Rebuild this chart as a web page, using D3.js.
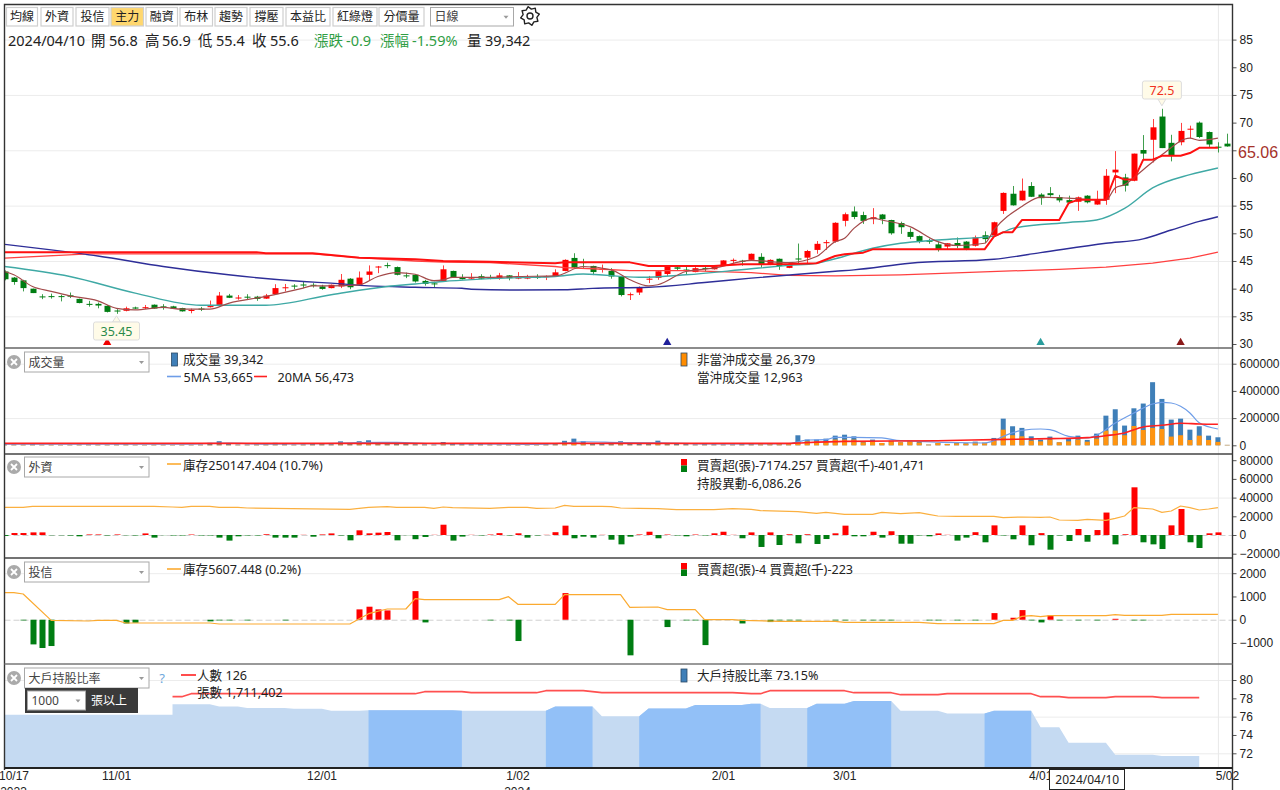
<!DOCTYPE html>
<html lang="zh-Hant">
<head>
<meta charset="utf-8">
<script src="https://cdn.jsdelivr.net/npm/d3@7/dist/d3.min.js"></script>
<style>
html,body{margin:0;padding:0;background:#fff;overflow:hidden}
svg{display:block}
text{font-family:"Noto Sans","Noto Sans CJK TC",sans-serif;fill:#222}
.axis text{font-family:"Liberation Sans","Noto Sans CJK TC",sans-serif;font-size:12px;fill:#222}
</style>
</head>
<body>
<svg id="chart" width="1280" height="790"></svg>
<script>
// ---- Daily candles, one entry per trading day ----
const opens = [
43.1,42,41.5,40,38.6,38.65,38.65,38.8,38.15,37.25,
37.25,36.9,36.05,36,36.6,36.6,37.1,36.8,36.8,36.5,
36.1,36.4,36.65,37,38.75,38.35,38.55,38.55,38.2,39,
40.2,40.55,40.75,40.7,40.4,40.1,40.4,41.8,40.7,42.5,
43.9,44.25,43.9,42.4,42.5,41.4,40.95,41.3,43.2,42.05,
41.95,42.25,42.05,41.95,42.4,41.95,41.95,42.1,42.2,42.25,
43.2,45.55,44.8,44.1,43.55,43.2,42.2,38.95,39.3,41.75,
41.95,42.65,43.85,43.45,43,43.75,43.5,44.15,45.15,45.05,
45.2,45.75,44.3,45.4,43.75,45.45,45.6,47,48.35,48.5,
52.25,53.95,53.3,52.55,53.4,52.4,51.85,50.25,49.5,48.65,
48,47.6,48.25,48.5,47.75,49.65,49.6,54.05,57.15,55.95,
58.55,57,57.25,56.55,56,55.7,56.8,55.2,56.05,61,
60.1,59.5,65.05,66.9,71.1,66.35,66.45,68.85,70,68.3,
65.65,66.2];
const highs = [
43.3,42.1,41.6,40,39,39.1,38.9,39.3,38.2,37.8,
37.5,37,36.3,36.75,36.75,37.05,37.15,37.2,36.9,36.55,
36.4,36.7,37.85,39.4,39.05,38.85,39,38.7,39.05,40.8,
40.85,40.8,41.3,41,40.7,40.75,42.65,41.9,43.1,44.2,
44.1,44.7,44,42.9,42.6,41.6,41.25,44.2,43.25,42.6,
42.8,42.6,42.5,42.85,42.45,43,42.5,42.6,42.4,43.5,
45.3,46.4,45.4,44.15,44.35,43.7,42.2,39.3,40.4,42.3,
43.2,44.1,44.15,43.95,43.9,44.1,44.1,45.15,45.45,45.2,
46.35,46.4,45.3,45.45,44.5,48.15,47,48.6,48.8,52,
53.75,54.85,53.9,54.55,53.5,52.45,52.1,50.9,49.6,49.05,
48.5,48.25,49.25,48.6,49.6,50.35,52.1,57.4,58.55,59.9,
59.25,57.25,58.35,56.95,56.8,56.65,56.9,57.7,61.6,64.85,
60.75,64.4,67.75,70.65,72.5,67.8,69.95,69.45,70.2,68.4,
66.45,68];
const lows = [
41.5,40.7,39.5,39.2,38.1,38.2,37.7,38.3,37.35,36.75,
36.45,35.7,35.45,35.9,36.3,36.3,36.35,36.2,36.35,35.85,
35.55,35.95,36.6,37,38.3,38,38.05,37.8,38.15,38.95,
39.5,39.9,40.1,40.2,39.8,40.05,40.1,39.9,40.7,41.5,
42.8,43.7,42.4,41.9,41.1,40.55,40.2,41.25,42,41.65,
41.7,41.7,41.7,41.6,41.5,41.7,41.7,41.75,41.55,42.2,
43.15,43.75,43.7,42.45,42.9,41.8,38.6,37.95,38.85,41,
41.6,42.3,43.2,42.6,42.95,43.1,43.45,44.1,44.6,44.15,
45.15,43.8,44.25,43.4,43.7,44.6,44.6,46.3,47,48.3,
51.25,52.55,51.7,51.65,51.65,49.75,49.9,48.95,48.2,48.1,
46.7,47.15,47.3,46.95,47.6,48.2,49.5,53.5,55,55.9,
56.55,55.15,56.6,55.6,55.4,54.05,55.4,55.15,55.15,57.25,
57.55,59.4,63.3,62.8,65.4,63,65.9,67.2,67.2,65.5,
64.6,65.65];
const closes = [
41.7,41.2,40.1,39.2,38.55,38.6,38.6,38.55,37.4,37.2,
36.95,35.8,36,36.45,36.4,36.65,36.4,36.75,36.4,35.9,
36.15,36.35,36.85,38.75,38.35,38.4,38.5,38.15,38.75,40.1,
40.25,40.5,40.7,40.6,39.95,40.7,41.6,40.25,42,43.1,
44,44.2,42.5,42.35,41.3,40.85,40.9,43.5,42.05,41.7,
42,41.8,41.8,42.4,41.9,42,42,42.05,42.25,42.95,
45.2,43.8,44.75,43,43.6,42.2,38.85,39,40.2,41.8,
43.15,44,43.6,43.4,43.7,43.7,44.05,45.1,45.2,45,
46.3,44.3,45.2,44.1,44.45,45.4,46.8,48.1,48.4,51.9,
53.45,52.95,52.25,52.9,52.55,50,51.1,49.35,48.5,48.6,
47.05,48.2,47.7,47,49.25,48.95,52,57.3,55.05,57.7,
56.6,56.35,56.9,55.95,55.55,56.5,55.6,56.05,60.4,61.5,
58.6,64.4,64.4,69.15,65.4,64,68.5,68.9,67.4,66.05,
65.6,65.7];

// ---- Moving averages and the main-force cost line, as [day, price] readings ----
const ma5 = [[0,43.1],[1,42.5],[3,40.4],[5,39.5],[7,38.7],[10,37.8],[12,36.45],[14,36.15],[17,36.6],[19,36.3],[22,36.3],[24,37.35],[28,38.6],[32,40.1],[33,40.5],[35,40.5],[38,40.7],[40,42.2],[42,42.9],[44,42.6],[46,41.45],[47,41.6],[48,42.05],[52,42.05],[55,42.2],[59,42.3],[62,44],[65,43.4],[67,41.6],[69,40.5],[70,40.7],[73,43.1],[76,43.7],[80,45.1],[84,44.7],[87,45.8],[89,48.5],[90,49.1],[91,50.9],[93,52.75],[94,52.4],[97,51.2],[100,48.5],[102,47.8],[105,48.2],[106,50.6],[109,54.85],[111,56.55],[114,56.35],[118,56],[119,58.2],[120,58.8],[122,61.5],[124,64.2],[127,67.2],[128,66.8],[130,67.2]];
const ma20 = [[0,44],[7,42.2],[14,39.2],[21,37],[28,37],[35,38.9],[41,40.4],[44,40.85],[47,41.3],[55,42],[59,42.2],[62,42.65],[68,42.05],[73,42.5],[80,43.6],[84,44.2],[87,44.6],[89,45.4],[93,47.3],[96,48.2],[100,48.8],[106,49.5],[108,50.9],[114,51.95],[117,52.4],[120,54.5],[123,58.2],[127,60.6],[130,61.8]];
const ma60 = [[0,48],[5,47],[10,45.9],[17,44],[24,42.5],[32,41.3],[35,41],[39,40.5],[44,40.25],[49,40.07],[50,39.9],[55,39.75],[60,39.8],[63,40.05],[69,40.25],[75,41.1],[80,41.9],[89,43.15],[91,43.4],[97,44.6],[106,45.3],[111,46.5],[118,48.2],[122,49],[125,50.6],[128,52.15],[130,53]];
const ma240 = [[0,45.5],[9,46.3],[33,46.3],[38,45.6],[44,45],[47,44.8],[52,44.7],[59,44],[60,43.8],[63,43.6],[67,43.25],[73,43.25],[80,42.9],[84,42.4],[89,42.3],[96,42.5],[113,43.5],[118,43.9],[123,44.6],[127,45.5],[130,46.6]];
const mainCost = [[0,46.6],[27,46.6],[28,46.4],[33,46.4],[38,45.6],[44,45.3],[47,45],[52,44.85],[59,44.6],[60,44.75],[67,44.75],[69,44.1],[76,44.1],[79,44.4],[84,44.45],[87,44.6],[89,45.9],[90,46.2],[92,46.5],[93,47.1],[105,47.1],[106,49.4],[107,50.2],[108,50.2],[109,52.4],[113,52.4],[114,55.45],[115,56.05],[118,56.05],[119,60.4],[120,59.7],[121,59.7],[122,63.3],[123,63.3],[124,64],[126,64],[127,64.5],[128,65.45],[130,65.45]];

const priceTicks = [85,80,75,70,65,60,55,50,45,40,35,30];
const priceGrid = [85,75,65,55,45,35];
const signalDays = [11,71,111,126];
const signalColors = ["#f00000","#20209a","#2a9d9d","#8b1a1a"];

// ---- Volume panel ----
const volumeTotal = [
8000,7000,6000,9000,5000,5000,4000,5000,6000,7000,
6000,5000,7000,8000,5000,4000,5000,5000,4000,4000,
4000,6000,18000,30000,9000,6000,6000,7000,8000,18000,
9000,6000,7000,12000,16000,8000,29000,14000,30000,37000,
22000,14000,14000,12000,8000,7000,6000,24000,10000,9000,
8000,9000,7000,6000,7000,6000,7000,8000,9000,14000,
33000,49000,30000,12000,10000,16000,30000,14000,10000,12000,
34000,15000,10000,9000,7000,9000,8000,7000,7000,9000,
12000,14000,12000,11000,10000,73600,42000,42000,49000,71000,
78000,66000,29000,42000,17000,34000,22000,34000,29000,5000,
17000,10000,17000,15000,27000,20000,54000,196000,140000,128000,
66000,42000,64000,22000,47000,71000,39342,86000,218000,265000,
145000,272000,307000,464000,341000,189000,196000,115000,140000,71000,
59000,3000];
const volumeNonDayTrade = [
2000,2000,3000,2000,2000,3000,2000,2000,3000,2000,
3000,2000,2000,3000,2000,2000,3000,2000,2000,3000,
2000,2000,4000,5000,3000,2000,2000,3000,4000,5000,
3000,2000,3000,4000,5000,3000,6000,5000,7000,8000,
6000,5000,4000,4000,3000,2000,2000,7000,3000,3000,
2000,3000,3000,2000,2000,3000,2000,3000,3000,5000,
8000,10000,8000,4000,3000,5000,7000,4000,3000,4000,
8000,5000,3000,3000,2000,3000,2000,2000,2000,3000,
5000,14000,12000,11000,10000,24000,29000,29000,29000,42000,
42000,42000,22000,29000,17000,30000,22000,30000,20000,5000,
17000,10000,15000,13000,20000,17000,34000,115000,74000,66000,
34000,29000,42000,22000,29000,42000,26379,49000,108000,108000,
74000,142000,113000,128000,120000,64000,74000,39000,71000,39000,
25000,3000];
const volumeMa5 = [[0,9000],[20,9000],[22,14000],[24,16000],[28,9000],[34,12000],[38,20000],[42,22000],[46,12000],[56,7000],[60,16000],[62,26000],[66,20000],[70,18000],[76,10000],[84,12000],[85,25000],[86,39000],[88,41000],[89,59000],[91,59000],[94,54000],[96,34000],[105,17000],[106,34000],[107,66000],[109,110000],[111,120000],[112,115000],[114,66000],[116,53665],[117,74000],[119,164000],[121,238000],[123,304000],[124,316000],[125,311000],[126,287000],[127,238000],[128,165000],[130,120000]];
const volumeMa20 = [[0,14000],[84,14000],[85,17000],[90,29000],[100,34000],[106,42000],[112,49000],[116,56473],[118,71000],[120,91000],[122,135000],[124,147000],[126,162000],[128,157000],[130,155000]];
const volumeTicks = [600000,400000,200000,0];
const volumeGrid = [600000,200000];

// ---- Foreign investors panel ----
const foreignNet = [
-1000,2100,2100,2800,2800,-300,-300,-600,-1400,600,
600,-500,600,-300,-500,1700,-2800,-200,-500,-500,
500,-500,-500,-2800,-6000,-1400,-500,-500,800,-2800,
-2800,-2800,200,-1800,600,1700,-500,-5700,5000,1800,
2500,3200,-5700,-200,-4500,-2100,200,11000,-6000,-1700,
200,-500,500,2000,-500,1800,-2800,-500,200,3000,
10000,-3500,-1800,-2800,200,-5000,-10000,-1800,600,3500,
-3500,500,-500,-1400,500,-500,1800,3500,200,-3500,
2800,-12800,2800,-10700,800,-8900,800,-9600,-4300,1800,
10000,-1400,-1400,3500,-2800,4000,-9300,-9300,-500,-1400,
1700,200,-6000,-2800,3000,-7800,10300,-500,-4600,10300,
-11000,2000,-15700,-500,-6400,6400,-7174,5300,24000,-10000,
800,51000,-7800,-10000,-15000,10300,27800,-7800,-13900,1800,
2800];
const foreignHold = [[0,326600],[2,326600],[3,333000],[16,333000],[18,328800],[19,326600],[20,333000],[22,333000],[23,326600],[25,326600],[26,322400],[37,313900],[39,326600],[41,330900],[42,326600],[45,326600],[46,320300],[47,328800],[48,324500],[52,320300],[54,326600],[56,326600],[57,320300],[59,322400],[60,339400],[61,333000],[64,333000],[65,330900],[66,322400],[68,320300],[70,318100],[72,311800],[76,311800],[78,318100],[80,313900],[81,305400],[85,299000],[87,288400],[88,294800],[90,282000],[93,282000],[94,294800],[96,286300],[98,292600],[99,282000],[100,271400],[102,269300],[106,269300],[107,260800],[109,265000],[111,262900],[112,265000],[113,245900],[115,243800],[116,250147],[118,243800],[119,256500],[120,271400],[121,324500],[123,316000],[124,294800],[125,303300],[126,335100],[127,324500],[128,309600],[129,316000],[130,324500]];
const foreignTicks = [80000,60000,40000,20000,0,-20000];

// ---- Investment trust panel ----
const trustDays = [2,3,4,5,13,14,22,23,24,26,30,38,39,40,41,44,45,52,54,55,60,67,71,73,74,75,79,82,83,84,85,89,90,92,93,94,95,99,100,102,104,106,108,109,110,111,112,113,115,116,117,119,121,122];
const trustNet = [-30,-1060,-1215,-1130,-160,-130,-70,-30,-30,-30,-30,445,560,445,400,1230,-115,-30,-30,-915,1145,-1530,-315,-30,-30,-1090,-160,-100,-30,-30,-30,-30,-30,-30,-30,-30,-30,-30,-30,-30,-30,285,85,415,-30,-115,185,-30,-30,-4,-30,40,-30,-30];
const trustHold = [[0,8367],[1,8367],[2,8207],[5,5047],[9,4967],[10,5047],[12,5047],[13,4727],[22,4727],[23,4607],[37,4607],[39,5847],[41,6407],[43,6407],[44,7647],[45,7527],[53,7527],[54,7887],[55,6967],[59,6967],[60,8127],[66,8127],[67,6607],[70,6647],[71,6327],[74,6327],[75,5127],[78,5127],[79,5047],[83,4927],[89,4927],[90,4807],[98,4807],[100,4647],[106,4647],[107,5047],[108,5047],[109,5527],[110,5607],[111,5487],[112,5607],[116,5607],[118,5607],[119,5727],[120,5647],[124,5647],[125,5767],[130,5767]];
const trustTicks = [2000,1000,0,-1000];

// ---- Large holders panel: weekly readings held over [first day, last day] ----
const holderWeeks = [[0,18,76.2],[18,22,77.35],[23,25,77.1],[26,30,76.95],[31,34,76.85],[35,38,76.65],[39,48,76.7],[49,58,76.65],[59,63,77.1],[64,68,76.05],[69,73,76.9],[74,79,77.27],[80,81,77.4],[82,86,76.95],[87,90,77.4],[91,95,77.7],[96,100,76.65],[101,105,76.35],[106,110,76.65],[111,113,74.85],[114,118,73.15],[119,123,71.85],[124,128,71.7]];
const holderDarkSpans = [[39,49],[58,63],[68,81],[86,95],[105,110]];
const holderPeople = [[18,19,127],[20,44,130],[45,49,132],[50,57,131],[58,62,133],[64,78,131],[80,81,130],[82,90,133],[91,95,131],[96,100,129],[101,110,130],[111,113,127],[114,118,126],[119,123,127],[124,128,126]];
const holderTicks = [80,78,76,74,72];
const holderGrid = [80,76,72];

// ---- Time axis ----
const dayTicks = [0,11,33,54,76,89,110,130];
const dayLabels = ["10/17","11/01","12/01","1/02","2/01","3/01","4/01","5/02"];
const toolbarNames = ["均線","外資","投信","主力","融資","布林","趨勢","撐壓","本益比","紅綠燈","分價量"];
const toolbarLeft = [6.5,41,76,111,146,180,215,250,286,333,379];
const toolbarRight = [37.5,73,109,143.5,177.5,212.5,247,283,330,377,424];

// ---- Scales ----
const x = d3.scaleLinear().domain([0,131]).range([4.5,1227.25]);
const yPrice = d3.scaleLinear().domain([30,85]).range([344,39.6]);
const yVol = d3.scaleLinear().domain([0,600000]).range([445.3,363.7]);
const yForeign = d3.scaleLinear().domain([-20000,80000]).range([553.7,460.2]);
const yForeignHold = d3.scaleLinear().domain([0,250147]).range([558.57,519.33]);
const yTrust = d3.scaleLinear().domain([-1000,2000]).range([643,573.2]);
const yTrustHold = d3.scaleLinear().domain([4000,8000]).range([629.06,595.73]);
const yHolder = d3.scaleLinear().domain([72,80]).range([753.3,680]);
const yPeople = d3.scaleLinear().domain([126,133]).range([697.67,690.67]);

const svg = d3.select("#chart");
const RIGHT = 1232.5, LEFT = 4.5;
const UP = "#ff0000", DOWN = "#007d12";
const LEGEND_SIZE = 12.6;

svg.append("defs").append("clipPath").attr("id","plot")
  .append("rect").attr("x",LEFT).attr("y",4).attr("width",RIGHT-LEFT).attr("height",764);

const plot = svg.append("g").attr("clip-path","url(#plot)");

function grid(values, scale){
  plot.append("g").selectAll("line").data(values).join("line")
    .attr("x1",LEFT).attr("x2",RIGHT)
    .attr("y1",d=>scale(d)+.5).attr("y2",d=>scale(d)+.5)
    .attr("stroke","#ececec").attr("stroke-width",1);
}
function drawLine(parent, pts, yScale, color, width, curve){
  parent.append("path").datum(pts)
    .attr("fill","none").attr("stroke",color).attr("stroke-width",width)
    .attr("stroke-linejoin","round")
    .attr("d",d3.line().x(d=>x(d[0])).y(d=>yScale(d[1])).curve(curve||d3.curveLinear));
}
function rightAxis(scale, ticks, fmt){
  const g = svg.append("g").attr("class","axis").attr("transform",`translate(${RIGHT},0)`)
    .call(d3.axisRight(scale).tickValues(ticks).tickSize(4).tickPadding(3).tickFormat(fmt||d3.format("d")));
  g.select(".domain").remove();
  g.selectAll("line").attr("stroke","#555");
}

// Grid lines across all panels
grid(priceGrid,yPrice); grid(volumeGrid,yVol); grid([40000],yForeign); grid([2000],yTrust); grid(holderGrid,yHolder);
plot.append("line").attr("x1",x(130)+.5).attr("x2",x(130)+.5).attr("y1",4).attr("y2",768).attr("stroke","#e8e8e8");

// Candles
const days = d3.range(opens.length);
const candle = plot.append("g").selectAll("g").data(days).join("g")
  .attr("stroke",i=>closes[i]>=opens[i]?UP:DOWN).attr("fill",i=>closes[i]>=opens[i]?UP:DOWN);
candle.append("line").attr("x1",i=>Math.round(x(i))+.5).attr("x2",i=>Math.round(x(i))+.5)
  .attr("y1",i=>yPrice(highs[i])).attr("y2",i=>yPrice(lows[i])).attr("stroke-width",1).attr("stroke-opacity",.75);
candle.append("rect").attr("x",i=>Math.round(x(i))-2.5).attr("width",6)
  .attr("y",i=>yPrice(Math.max(opens[i],closes[i])))
  .attr("height",i=>Math.max(1,Math.abs(yPrice(opens[i])-yPrice(closes[i]))))
  .attr("stroke","none");

// Moving averages over the candles
drawLine(plot,ma240,yPrice,"#ff4040",1.3);
drawLine(plot,ma60,yPrice,"#2e2e98",1.4,d3.curveMonotoneX);
drawLine(plot,ma20,yPrice,"#3fa9a5",1.4,d3.curveMonotoneX);
drawLine(plot,ma5,yPrice,"#a34a4a",1.2,d3.curveMonotoneX);
drawLine(plot,mainCost,yPrice,"#ff1010",2);

// Turning-point signals along the bottom of the price panel
plot.append("g").selectAll("path").data(signalDays).join("path")
  .attr("d",d3.symbol(d3.symbolTriangle,30))
  .attr("transform",d=>`translate(${x(d)},342.5)`)
  .attr("fill",(d,i)=>signalColors[i]);

// High and low callouts
function callout(day,price,label,color,boxY,boxW,below){
  const cx = x(day), py = yPrice(price), h = 18;
  const g = svg.append("g");
  const tipY = below ? py+2 : py-3;
  const edge = below ? boxY : boxY+h;
  g.append("path").attr("d",`M${cx-4},${edge}L${cx},${tipY}L${cx+4},${edge}Z`).attr("fill","#fffbe8").attr("stroke","#ddd");
  g.append("rect").attr("x",cx-boxW/2).attr("y",boxY).attr("width",boxW).attr("height",h).attr("rx",2)
    .attr("fill","#fffbe8").attr("stroke","#ddd");
  g.append("text").attr("x",cx).attr("y",boxY+h/2+.5).attr("text-anchor","middle").attr("dominant-baseline","central")
    .style("font-size","12.5px").style("fill",color).text(label);
}
callout(12,35.45,"35.45","#2a8a4a",322,46,true);
callout(124,72.5,"72.5","#f03020",81,39,false);

// Volume bars: whole volume behind, the part not day-traded on top
const volG = plot.append("g");
volG.selectAll("rect.t").data(days).join("rect").attr("class","t")
  .attr("x",i=>x(i)-2.5).attr("width",5)
  .attr("y",i=>yVol(volumeTotal[i])).attr("height",i=>yVol(0)-yVol(volumeTotal[i])).attr("fill","#3f7fb8");
volG.selectAll("rect.o").data(days).join("rect").attr("class","o")
  .attr("x",i=>x(i)-2.5).attr("width",5)
  .attr("y",i=>yVol(volumeNonDayTrade[i])).attr("height",i=>yVol(0)-yVol(volumeNonDayTrade[i])).attr("fill","#ff9410");
drawLine(plot,volumeMa5,yVol,"#6e9de8",1.2,d3.curveMonotoneX);
drawLine(plot,volumeMa20,yVol,"#ff2020",1.6,d3.curveMonotoneX);

// Net buy/sell bars
function netBars(dayList, values, yScale){
  plot.append("g").selectAll("rect").data(dayList).join("rect")
    .attr("x",d=>Math.round(x(d))-2.5).attr("width",6)
    .attr("y",(d,i)=>Math.min(yScale(0),yScale(values[i])))
    .attr("height",(d,i)=>Math.abs(yScale(0)-yScale(values[i])))
    .attr("fill",(d,i)=>values[i]>=0?UP:DOWN);
}
function zeroLine(yScale){
  plot.append("line").attr("x1",LEFT).attr("x2",RIGHT).attr("y1",yScale(0)+.5).attr("y2",yScale(0)+.5)
    .attr("stroke","#d0d0d0").attr("stroke-dasharray","6 3");
}
zeroLine(yForeign);
netBars(d3.range(foreignNet.length),foreignNet,yForeign);
drawLine(plot,foreignHold,yForeignHold,"#fbb040",1.2);
zeroLine(yTrust);
netBars(trustDays,trustNet,yTrust);
drawLine(plot,trustHold,yTrustHold,"#fbaa30",1.2);

// Large holder area, with a darker shade on alternating spans
const holderPts = holderWeeks.flatMap(w=>[[w[0],w[2]],[w[1],w[2]]]);
const holderArea = d3.area().x(d=>x(d[0])).y0(767).y1(d=>yHolder(d[1]));
plot.append("path").datum(holderPts).attr("fill","#c5daf2").attr("d",holderArea);
const defs = svg.select("defs");
holderDarkSpans.forEach((s,k)=>{
  defs.append("clipPath").attr("id","dark"+k).append("rect")
    .attr("x",x(s[0])).attr("y",664).attr("width",x(s[1])-x(s[0])).attr("height",104);
  plot.append("path").datum(holderPts).attr("clip-path",`url(#dark${k})`).attr("fill","#92c0f7").attr("d",holderArea);
});
const peoplePts = holderPeople.flatMap(w=>[[w[0],w[2]],[w[1],w[2]]]);
drawLine(plot,peoplePts,yPeople,"#ff5050",1.6);

// Right-hand value axes; the 65 tick gives way to the current price tag
rightAxis(yPrice,priceTicks,d=>d===65?"":String(d));
rightAxis(yVol,volumeTicks);
rightAxis(yForeign,foreignTicks);
rightAxis(yTrust,trustTicks);
rightAxis(yHolder,holderTicks);

// Time axis: labels sit just right of their day
const timeAxis = svg.append("g").attr("class","axis").attr("transform","translate(9,769)")
  .call(d3.axisBottom(x).tickValues(dayTicks).tickSize(0).tickPadding(2).tickFormat((d,i)=>dayLabels[i]));
timeAxis.select(".domain").remove();
[[0,"2023"],[54,"2024"]].forEach(([d,s])=>{
  svg.append("text").attr("class","yr").attr("x",x(d)+9).attr("y",795.5).attr("text-anchor","middle")
    .style("font-family",'"Liberation Sans",sans-serif').style("font-size","12px").text(s);
});

// Panel frame
const frame = svg.append("g").attr("stroke","#333").attr("fill","none");
frame.append("path").attr("d",`M${LEFT},770V4.5H${RIGHT}V790`).attr("stroke-width",1.4);
[[348,"#666"],[454,"#444"],[558,"#444"],[664,"#777"],[768,"#222"]].forEach(([y,c])=>{
  frame.append("line").attr("x1",LEFT).attr("x2",RIGHT).attr("y1",y).attr("y2",y).attr("stroke",c).attr("stroke-width",y===768?2:1.5);
});

// Small text helper for legends
function label(x0,y0,s,size,color,anchor){
  return svg.append("text").attr("x",x0).attr("y",y0).attr("dominant-baseline","central")
    .attr("text-anchor",anchor||"start").style("font-size",(size||LEGEND_SIZE)+"px").style("fill",color||"#222").text(s);
}

// Cursor date tag on the time axis
svg.append("rect").attr("x",1049.5).attr("y",769.5).attr("width",75).attr("height",20).attr("fill","#fff").attr("stroke","#222");
label(x(116),779,"2024/04/10",12,"#222","middle");

// Toolbar
toolbarNames.forEach((n,i)=>{
  svg.append("rect").attr("x",toolbarLeft[i]).attr("y",7.5).attr("width",toolbarRight[i]-toolbarLeft[i]).attr("height",18.5)
    .attr("fill",n==="主力"?"#ffd76e":"#fff").attr("stroke","#cfcfcf").attr("stroke-width",1.2);
  label((toolbarLeft[i]+toolbarRight[i])/2,16.5,n,12,"#222","middle");
});
function dropdown(x0,y0,w,h,text){
  svg.append("rect").attr("x",x0).attr("y",y0).attr("width",w).attr("height",h).attr("fill","#fff").attr("stroke","#a8a8a8");
  label(x0+4,y0+h/2,text,12,"#444");
  svg.append("path").attr("d",`M${x0+w-10},${y0+h/2-1}h5l-2.5,3z`).attr("fill","#999");
}
dropdown(430.5,7.5,83,18.5,"日線");

// Settings gear
const gearPath = d3.range(16).map(k=>{
  const a = (k/16)*2*Math.PI - Math.PI/16, r = (k%2===0)?9.5:7;
  return [530+r*Math.cos(a),16+r*Math.sin(a)];
});
svg.append("path").attr("d",d3.line().curve(d3.curveLinearClosed)(gearPath)).attr("fill","none").attr("stroke","#222").attr("stroke-width",1.4).attr("stroke-linejoin","round");
svg.append("circle").attr("cx",530).attr("cy",16).attr("r",3).attr("fill","none").attr("stroke","#222").attr("stroke-width",1.4);

// Price header for the selected day
const GREEN = "#2f9e44";
[[8,"2024/04/10"],[91,"開"],[109,"56.8"],[145,"高"],[162,"56.9"],[198,"低"],[216,"55.4"],[252,"收"],[270,"55.6"],[467,"量"],[485,"39,342"]]
  .forEach(([px,s])=>label(px,40,s,14.5,"#222"));
[[314,"漲跌"],[346,"-0.9"],[380,"漲幅"],[412,"-1.59%"]].forEach(([px,s])=>label(px,40,s,14.5,GREEN));

// Current price tag on the axis
label(1238,152.5,"65.06",16,"#a5322a").style("font-family",'"Liberation Sans",sans-serif');

// Panel pickers and legends
function panelHead(y0,name){
  svg.append("circle").attr("cx",14).attr("cy",y0).attr("r",7).attr("fill","#aaa");
  svg.append("path").attr("d",`M11,${y0-3}l6,6M17,${y0-3}l-6,6`).attr("stroke","#fff").attr("stroke-width",1.8);
  dropdown(24.5,y0-10,124.5,20,name);
}
function bar(x0,y0,fill){
  svg.append("rect").attr("x",x0).attr("y",y0-6).attr("width",6).attr("height",13).attr("fill",fill).attr("stroke","#2b4a66").attr("stroke-width",.8);
}
function redGreen(y0){
  svg.append("rect").attr("x",681).attr("y",y0-6).attr("width",6).attr("height",6.5).attr("fill",UP);
  svg.append("rect").attr("x",681).attr("y",y0+.5).attr("width",6).attr("height",6.5).attr("fill",DOWN);
}
function dash(x0,x1,y0,color){
  svg.append("line").attr("x1",x0).attr("x2",x1).attr("y1",y0).attr("y2",y0).attr("stroke",color).attr("stroke-width",1.6);
}
panelHead(362,"成交量");
bar(171.5,359,"#3f7fb8"); label(183,359,"成交量 39,342");
dash(167,181,376.5,"#6e9de8"); label(183.5,377,"5MA 53,665");
dash(254,267,376.5,"#ff2020"); label(277.5,377,"20MA 56,473");
bar(681,359,"#ff8c00"); label(697,359,"非當沖成交量 26,379"); label(697,377,"當沖成交量 12,963");

panelHead(467,"外資");
dash(167,181,464,"#fbaa30"); label(183,465,"庫存250147.404 (10.7%)");
redGreen(465); label(697,465,"買賣超(張)-7174.257 買賣超(千)-401,471"); label(697,483,"持股異動-6,086.26");

panelHead(572,"投信");
dash(167,181,569,"#fbaa30"); label(183,569,"庫存5607.448 (0.2%)");
redGreen(569); label(697,569,"買賣超(張)-4 買賣超(千)-223");

panelHead(678,"大戶持股比率");
label(162,678,"?",13,"#6fa8dc","middle");
svg.append("rect").attr("x",25).attr("y",688).attr("width",113).attr("height",25).attr("fill","#3a3a3a");
dropdown(27.5,691,58,19,"1000");
label(91,700.5,"張以上",12,"#fff");
dash(181,196,675,"#ff2020"); label(197,675,"人數 126"); label(197,692,"張數 1,711,402");
bar(681,675,"#3f7fb8"); label(697,675,"大戶持股比率 73.15%");
</script>
</body>
</html>
